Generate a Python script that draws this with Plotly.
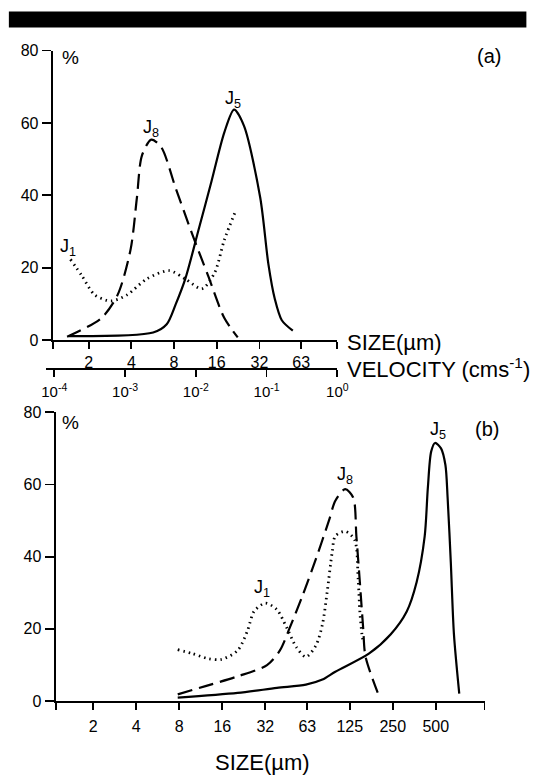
import numpy as np
import plotly.graph_objects as go

W, H = 551, 782
FONT = "Liberation Sans, Arial, sans-serif"

# ---------------- data: panel (a) ----------------
a_size_ticks = [2, 4, 8, 16, 32, 63]
a_vel_ticks = [1e-4, 1e-3, 1e-2, 1e-1, 1]
a_vel_labels = ["10<sup>-4</sup>", "10<sup>-3</sup>", "10<sup>-2</sup>", "10<sup>-1</sup>", "10<sup>0</sup>"]
pct_ticks = [0, 20, 40, 60, 80]

a_J5_size = [1.45, 5.7, 7.1, 8.2, 9.6, 11.9, 14.7, 18.1, 21.2, 24.9, 32.4, 37.0, 41.0, 46.0, 55.0]
a_J5_pct = [1.1, 2.1, 4.4, 9.8, 16.9, 30.4, 43.9, 57.4, 63.7, 59.2, 39.4, 21.0, 11.5, 5.5, 2.6]

a_J8_size = [1.41, 2.46, 3.2, 3.95, 4.38, 4.75, 5.54, 6.5, 8.2, 10.7, 13.9, 18.1, 22.5]
a_J8_pct = [0.9, 6.1, 12.5, 25.0, 39.4, 51.0, 55.4, 53.3, 42.1, 29.5, 17.8, 6.1, 0.75]

a_J1_size = [1.49, 1.79, 2.21, 2.87, 3.73, 5.13, 7.4, 9.6, 12.6, 15.5, 18.1, 21.8]
a_J1_pct = [22.3, 17.8, 12.5, 10.8, 12.5, 16.9, 19.2, 16.9, 14.2, 18.7, 27.7, 35.8]

# ---------------- data: panel (b) ----------------
b_size_ticks = [2, 4, 8, 16, 32, 63, 125, 250, 500]

b_J5_size = [7.8, 20.5, 38.6, 61.6, 80.4, 99, 170, 242, 313, 367, 418, 440, 464, 494, 544, 584, 605, 637, 670, 730]
b_J5_pct = [0.9, 2.2, 3.6, 4.5, 5.9, 8.1, 13.1, 18.5, 24.8, 32.9, 45.6, 59.1, 69.1, 71.5, 70.0, 65.4, 56.4, 38.4, 18.5, 2.0]

b_J8_size = [7.8, 12.2, 20.5, 32.9, 40.5, 47.5, 58.5, 72.3, 89.5, 99, 116, 132, 139, 147, 155, 161, 196]
b_J8_pct = [1.8, 4.1, 6.8, 9.9, 14.0, 20.3, 29.3, 39.3, 50.1, 55.5, 58.7, 56.4, 45.6, 32.9, 20.3, 12.3, 2.3]

b_J1_size = [7.8, 9.9, 12.8, 15.8, 20.5, 24, 26.7, 32, 38.6, 45.2, 52.8, 61.6, 72.3, 80.4, 86.8, 94, 99, 116, 135, 143, 147, 152, 155]
b_J1_pct = [14.2, 13.1, 11.7, 11.5, 14.0, 19.4, 24.8, 27.1, 25.3, 20.3, 14.9, 12.2, 15.3, 21.2, 30.2, 41.1, 45.7, 47.0, 44.7, 33.9, 24.8, 18.5, 16.3]


def px(x):
    return x / W


def py(y):
    return 1 - y / H


L2 = np.log10(2)

fig = go.Figure()

solid = dict(color="black", width=2.2)
dashed = dict(color="black", width=2.2, dash="15px,7px")
dotted = dict(color="black", width=2.8, dash="1.5px,4px")

for xs, ys, ln, xa, ya in [
    (a_J5_size, a_J5_pct, solid, "x", "y"),
    (a_J8_size, a_J8_pct, dashed, "x", "y"),
    (a_J1_size, a_J1_pct, dotted, "x", "y"),
    (b_J5_size, b_J5_pct, solid, "x3", "y3"),
    (b_J8_size, b_J8_pct, dashed, "x3", "y3"),
    (b_J1_size, b_J1_pct, dotted, "x3", "y3"),
]:
    fig.add_trace(go.Scatter(x=xs, y=ys, mode="lines", xaxis=xa, yaxis=ya,
                             line=dict(shape="spline", smoothing=0.8, **ln),
                             showlegend=False, hoverinfo="skip"))

# dummy trace to activate velocity axis
fig.add_trace(go.Scatter(x=[1e-4, 1], y=[0, 0], mode="lines", xaxis="x2", yaxis="y2",
                         line=dict(width=0, color="rgba(0,0,0,0)"), showlegend=False, hoverinfo="skip"))

TICKFONT = dict(family=FONT, size=16, color="black")
base = dict(showline=True, linecolor="black", linewidth=2, ticks="outside",
            tickwidth=1.8, tickcolor="black", showgrid=False, zeroline=False,
            tickfont=TICKFONT)

# panel (a) size axis
a_lo, a_hi = 0.157, 6.825
fig.update_layout(
    xaxis=dict(type="log", domain=[px(50), px(342.7)], range=[a_lo * L2, a_hi * L2], anchor="y",
               tickmode="array", tickvals=[2 ** (a_lo + 0.002)] + a_size_ticks + [2 ** (a_hi - 0.002)],
               ticktext=[""] + [str(t) for t in a_size_ticks] + [""], ticklen=7, **base),
    yaxis=dict(domain=[py(339.5), py(43.5)], range=[0, 80], anchor="x",
               tickmode="array", tickvals=pct_ticks, ticklen=9, **base),
    xaxis2=dict(type="log", domain=[px(43), px(342.7)],
                range=[-4 - (51.7 - 43) / 72.75, 0.0005], anchor="y2",
                tickmode="array", tickvals=a_vel_ticks, ticktext=a_vel_labels, ticklen=7,
                ticklabelstandoff=2,
                **{k: v for k, v in base.items() if k != "tickfont"},
                tickfont=dict(family=FONT, size=15, color="black")),
    yaxis2=dict(domain=[py(368), py(367)], range=[0, 1], visible=False, anchor="x2"),
)

# panel (b)
b_lo, b_hi = 0.122, 10.1
fig.update_layout(
    xaxis3=dict(type="log", domain=[px(53), px(494)], range=[b_lo * L2, b_hi * L2], anchor="y3",
                tickmode="array", tickvals=[2 ** (b_lo + 0.002)] + b_size_ticks + [2 ** (b_hi - 0.002)],
                ticktext=[""] + [str(t) for t in b_size_ticks] + [""], ticklen=7, ticklabelstandoff=3, **base),
    yaxis3=dict(domain=[py(708.3), py(413.3)], range=[0, 80], anchor="x3",
                tickmode="array", tickvals=pct_ticks, ticklen=9, **base),
)

lab = dict(family=FONT, size=18, color="black")
ann = [
    # curve labels (a)
    dict(x=np.log10(21.0), y=66.4, xref="x", yref="y", text="J<sub>5</sub>"),
    dict(x=np.log10(5.5), y=58.4, xref="x", yref="y", text="J<sub>8</sub>"),
    dict(x=np.log10(1.43), y=25.7, xref="x", yref="y", text="J<sub>1</sub>"),
    # curve labels (b)
    dict(x=np.log10(30.5), y=31.2, xref="x3", yref="y3", text="J<sub>1</sub>"),
    dict(x=np.log10(115), y=62.4, xref="x3", yref="y3", text="J<sub>8</sub>"),
    dict(x=np.log10(515), y=75.0, xref="x3", yref="y3", text="J<sub>5</sub>"),
]
for a in ann:
    a.update(showarrow=False, font=lab, xanchor="center", yanchor="middle")

pfont = dict(family=FONT, size=20, color="black")
pct_font = dict(family=FONT, size=19, color="black")
big = dict(family=FONT, size=22, color="black")
ann += [
    dict(x=px(499), y=py(49), text="(a)", font=pfont, xanchor="center"),
    dict(x=px(497), y=py(430), text="(b)", font=pfont, xanchor="center"),
    dict(x=px(58), y=py(51), text="%", font=pct_font, xanchor="left"),
    dict(x=px(58), y=py(424), text="%", font=pct_font, xanchor="left"),
    dict(x=px(351), y=py(342), text="SIZE(µm)", font=big, xanchor="left"),
    dict(x=px(351), y=py(368), text="VELOCITY (cms<sup>-1</sup>)", font=big, xanchor="left"),
    dict(x=px(266), y=py(771), text="SIZE(µm)", font=big, xanchor="center"),
]
for a in ann[6:]:
    a.update(xref="paper", yref="paper", showarrow=False, yanchor="middle")

fig.update_layout(
    width=W, height=H, autosize=False,
    margin=dict(l=0, r=0, t=0, b=0),
    paper_bgcolor="white", plot_bgcolor="white",
    annotations=ann,
    shapes=[dict(type="rect", xref="paper", yref="paper", x0=px(5), x1=px(537), y0=py(20), y1=py(3.5),
                 fillcolor="black", line=dict(width=0))],
)

fig.write_html("out.html", config={"displayModeBar": False, "staticPlot": True},
               post_script="document.body.style.margin='0';document.body.style.overflow='hidden';")
